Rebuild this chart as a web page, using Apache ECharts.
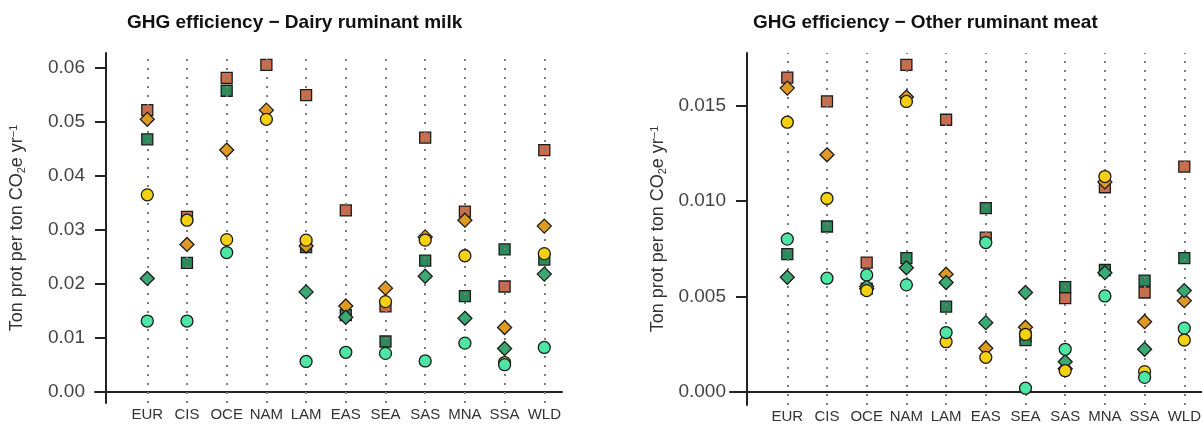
<!DOCTYPE html>
<html>
<head>
<meta charset="utf-8">
<script src="https://cdn.jsdelivr.net/npm/echarts@6/dist/echarts.min.js"></script>
<style>
html, body { margin: 0; padding: 0; background: #fff; }
#main { width: 1202px; height: 424px; }
</style>
</head>
<body>
<div id="main"></div>
<script>
var regions = ['EUR', 'CIS', 'OCE', 'NAM', 'LAM', 'EAS', 'SEA', 'SAS', 'MNA', 'SSA', 'WLD'];

// dairy ruminant milk
var milkTicks = [0, 0.01, 0.02, 0.03, 0.04, 0.05, 0.06];
var milkSqRed     = [0.0522, 0.0324, 0.0582, 0.0606, 0.0550, 0.0336, 0.0158, 0.0471, 0.0334, 0.0195, 0.0448];
var milkSqGreen   = [0.0468, 0.0239, 0.0558, null,   0.0268, 0.0142, 0.0093, 0.0243, 0.0177, 0.0264, 0.0245];
var milkDiaOrange = [0.0505, 0.0273, 0.0448, 0.0522, 0.0270, 0.0159, 0.0192, 0.0287, 0.0318, 0.0119, 0.0307];
var milkDiaGreen  = [0.0210, null,   null,   null,   0.0185, 0.0138, null,   0.0214, 0.0136, 0.0080, 0.0218];
var milkCirYellow = [0.0365, 0.0318, 0.0282, 0.0505, 0.0281, null,   0.0167, 0.0281, 0.0252, 0.0054, 0.0256];
var milkCirMint   = [0.0131, 0.0131, 0.0258, null,   0.0056, 0.0073, 0.0071, 0.0057, 0.0090, 0.0050, 0.0082];

// other ruminant meat
var meatTicks = [0, 0.005, 0.010, 0.015];
var meatSqRed     = [0.01647, 0.01522, 0.00677, 0.01714, 0.01426, 0.00808, 0.00290, 0.00490, 0.01072, 0.00520, 0.01180];
var meatSqGreen   = [0.00721, 0.00866, 0.00540, 0.00700, 0.00446, 0.00962, 0.00270, 0.00548, 0.00638, 0.00582, 0.00700];
var meatDiaOrange = [0.01592, 0.01242, 0.00540, 0.01545, 0.00616, 0.00228, 0.00338, 0.00120, 0.01100, 0.00367, 0.00477];
var meatDiaGreen  = [0.00600, null,    0.00551, 0.00650, 0.00572, 0.00362, 0.00520, 0.00157, 0.00624, 0.00222, 0.00530];
var meatCirYellow = [0.01413, 0.01013, 0.00530, 0.01522, 0.00262, 0.00180, 0.00300, 0.00110, 0.01128, 0.00105, 0.00271];
var meatCirMint   = [0.00800, 0.00595, 0.00612, 0.00560, 0.00310, 0.00782, 0.00018, 0.00222, 0.00502, 0.00075, 0.00333];

var FONT = '"Liberation Sans", Arial, sans-serif';
var positions = regions.map(function (r, i) { return i + 1; });

function toPoints(arr) {
	var out = [];
	for (var i = 0; i < arr.length; i++) {
		if (arr[i] !== null) out.push([i + 1, arr[i]]);
	}
	return out;
}

function markerSeries(idx, arr, symbol, size, color, z) {
	return {
		type: 'scatter',
		xAxisIndex: idx,
		yAxisIndex: idx,
		symbol: symbol,
		symbolSize: size,
		z: z,
		itemStyle: { color: color, borderColor: '#1c1c1c', borderWidth: 1.3, opacity: 1 },
		data: toPoints(arr)
	};
}

// dotted vertical guide at every region
function guideSeries(idx) {
	return {
		type: 'scatter',
		xAxisIndex: idx,
		yAxisIndex: idx,
		data: [],
		z: 1,
		markLine: {
			silent: true,
			symbol: ['none', 'none'],
			label: { show: false },
			lineStyle: { color: '#7c7c7c', type: [2, 7], width: 2 },
			data: positions.map(function (p) { return { xAxis: p }; })
		}
	};
}

function xAxisFor(idx, min, max) {
	return {
		type: 'value',
		gridIndex: idx,
		min: min,
		max: max,
		axisLine: { show: true, onZero: true, lineStyle: { color: '#222', width: 2 } },
		axisTick: { show: false },
		splitLine: { show: false },
		axisLabel: {
			customValues: positions,
			margin: 4,
			fontFamily: FONT,
			fontSize: 15,
			color: '#333',
			formatter: function (v) { return regions[Math.round(v) - 1] || ''; }
		}
	};
}

function yAxisFor(idx, min, max, ticks, digits, offset) {
	return {
		type: 'value',
		gridIndex: idx,
		min: min,
		max: max,
		offset: offset,
		name: 'Ton prot per ton CO{sub|2}e yr{sup|\u22121}',
		nameLocation: 'middle',
		nameRotate: 90,
		nameGap: 79,
		nameTextStyle: {
			fontFamily: FONT,
			fontSize: 18,
			color: '#333',
			rich: {
				sub: { fontFamily: FONT, fontSize: 11, color: '#333', verticalAlign: 'bottom', padding: [8, 0, 0, 0] },
				sup: { fontFamily: FONT, fontSize: 11, color: '#333', verticalAlign: 'top', padding: [0, 0, 8, 0] }
			}
		},
		axisLine: { show: true, onZero: false, lineStyle: { color: '#222', width: 2 } },
		axisTick: { show: true, customValues: ticks, length: 11, lineStyle: { color: '#222', width: 2 } },
		splitLine: { show: false },
		axisLabel: {
			customValues: ticks,
			margin: 21,
			fontFamily: FONT,
			fontSize: 19,
			color: '#444',
			formatter: function (v) { return v.toFixed(digits); }
		}
	};
}

function seriesFor(idx, sqRed, sqGreen, diaOrange, diaGreen, cirYellow, cirMint) {
	return [
		guideSeries(idx),
		markerSeries(idx, sqRed, 'rect', 11, '#c96d4c', 3),
		markerSeries(idx, sqGreen, 'rect', 11, '#2f8a5b', 4),
		markerSeries(idx, diaOrange, 'diamond', 14, '#e09a22', 5),
		markerSeries(idx, diaGreen, 'diamond', 14, '#3aaa72', 6),
		markerSeries(idx, cirYellow, 'circle', 12, '#f5cf12', 7),
		markerSeries(idx, cirMint, 'circle', 12, '#4de6a4', 8)
	];
}

var chart = echarts.init(document.getElementById('main'));

var option = {
	animation: false,
	backgroundColor: '#fff',
	title: [
		{
			text: 'GHG efficiency \u2212 Dairy ruminant milk',
			left: 122, top: 8,
			textStyle: { fontFamily: FONT, fontSize: 19, fontWeight: 'bold', color: '#111' }
		},
		{
			text: 'GHG efficiency \u2212 Other ruminant meat',
			left: 748, top: 8,
			textStyle: { fontFamily: FONT, fontSize: 19, fontWeight: 'bold', color: '#111' }
		}
	],
	grid: [
		{ left: 95, top: 53, width: 467, height: 350, containLabel: false, outerBoundsMode: 'none' },
		{ left: 730, top: 53, width: 472, height: 352, containLabel: false, outerBoundsMode: 'none' }
	],
	xAxis: [
		xAxisFor(0, -0.317, 11.446),
		xAxisFor(1, -0.443, 11.446)
	],
	yAxis: [
		yAxisFor(0, -0.0021, 0.0628, milkTicks, 2, -11),
		yAxisFor(1, -0.0007, 0.01776, meatTicks, 3, -17)
	],
	series: seriesFor(0, milkSqRed, milkSqGreen, milkDiaOrange, milkDiaGreen, milkCirYellow, milkCirMint)
		.concat(seriesFor(1, meatSqRed, meatSqGreen, meatDiaOrange, meatDiaGreen, meatCirYellow, meatCirMint))
};

chart.setOption(option);
</script>
</body>
</html>
